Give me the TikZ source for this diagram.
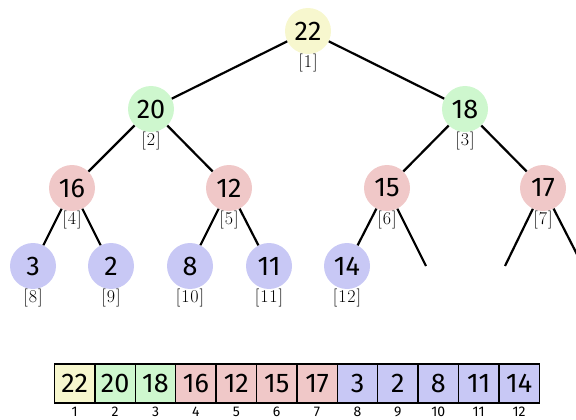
\documentclass[tikz,border=0pt]{standalone}
\usepackage{fontspec}
\newfontfamily\numfont{Fira Sans}
\newfontfamily\lblfont{Latin Modern Roman}[LetterSpace=5]
\definecolor{cyel}{RGB}{247,247,206}
\definecolor{cgrn}{RGB}{206,247,206}
\definecolor{cred}{RGB}{240,200,200}
\definecolor{cblu}{RGB}{200,200,245}
\tikzset{
  heapnode/.style={circle, minimum size=46pt, inner sep=0pt, font=\numfont\fontsize{27}{27}\selectfont},
  idxlabel/.style={font=\lblfont\fontsize{18}{18}\selectfont, inner sep=0pt},
  edge/.style={line width=2.2pt},
  cell/.style={draw, line width=1.4pt, minimum width=40.4pt, minimum height=39pt, inner sep=0pt, font=\numfont\fontsize{27}{27}\selectfont},
  cellidx/.style={font=\numfont\fontsize{14}{14}\selectfont, inner sep=0pt}
}
\begin{document}
\begin{tikzpicture}[x=1pt,y=-1pt]
\useasboundingbox (0,0) rectangle (576,420);
\begin{scope}
\clip (0,0) rectangle (576,420);
\coordinate (p1) at (308,31);
\coordinate (p2) at (151,109);
\coordinate (p3) at (465,109);
\coordinate (p4) at (72,188);
\coordinate (p5) at (229,188);
\coordinate (p6) at (387,188);
\coordinate (p7) at (543,188);
\coordinate (p8) at (33,266);
\coordinate (p9) at (111,266);
\coordinate (p10) at (190,266);
\coordinate (p11) at (269,266);
\coordinate (p12) at (347,266);
\foreach \i/\c/\v in {1/cyel/22,2/cgrn/20,3/cgrn/18,4/cred/16,5/cred/12,6/cred/15,7/cred/17,8/cblu/3,9/cblu/2,10/cblu/8,11/cblu/11,12/cblu/14}{
  \node[heapnode, fill=\c] (n\i) at (p\i) {\v};
}
\coordinate (d13) at (426,266);
\coordinate (d14) at (505,266);
\coordinate (d15) at (583,266);
\foreach \a/\b in {1/2,1/3,2/4,2/5,3/6,3/7,4/8,4/9,5/10,5/11,6/12}{
  \draw[edge] (n\a) -- (n\b);
}
\draw[edge] (n6) -- (d13);
\draw[edge] (n7) -- (d14);
\draw[edge] (n7) -- (d15);
\node[idxlabel] (l1) at (308,63) {[1]};
\node[idxlabel] (l2) at (151,141) {[2]};
\node[idxlabel] (l3) at (465,141) {[3]};
\node[idxlabel] (l4) at (72,220) {[4]};
\node[idxlabel] (l5) at (229,220) {[5]};
\node[idxlabel] (l6) at (387,220) {[6]};
\node[idxlabel] (l7) at (543,220) {[7]};
\node[idxlabel] (l8) at (33,298) {[8]};
\node[idxlabel] (l9) at (111,298) {[9]};
\node[idxlabel] (l10) at (190,298) {[10]};
\node[idxlabel] (l11) at (269,298) {[11]};
\node[idxlabel] (l12) at (347,298) {[12]};
\foreach \i/\c/\v in {1/cyel/22,2/cgrn/20,3/cgrn/18,4/cred/16,5/cred/12,6/cred/15,7/cred/17,8/cblu/3,9/cblu/2,10/cblu/8,11/cblu/11,12/cblu/14}{
  \node[cell, fill=\c] (a\i) at ({54.5+40.4*(\i-0.5)},383.5) {\v};
  \node[cellidx] (k\i) at ({54.5+40.4*(\i-0.5)},411.5) {\i};
}
\end{scope}
\end{tikzpicture}
\end{document}
